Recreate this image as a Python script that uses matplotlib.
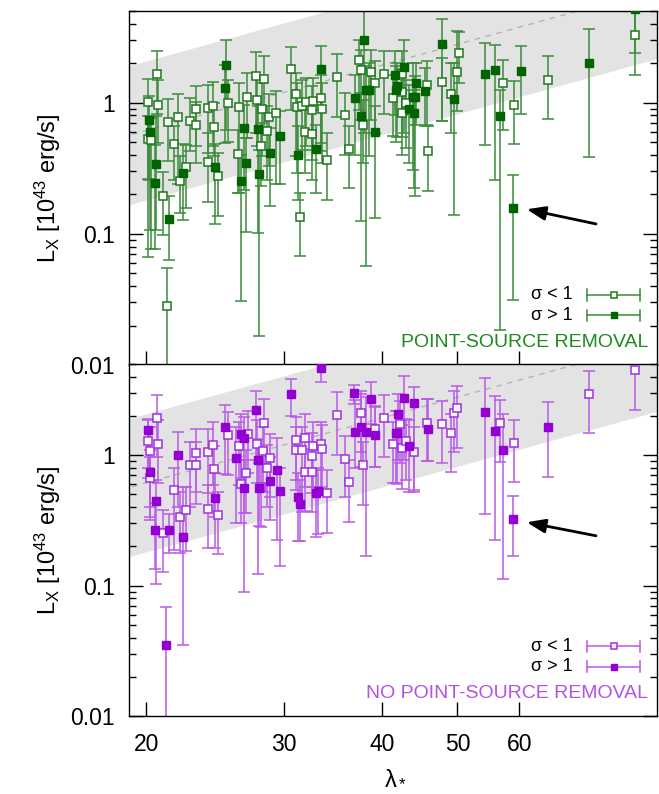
import numpy as np
import matplotlib
matplotlib.use("Agg")
import matplotlib.pyplot as plt
from matplotlib.ticker import FixedLocator, LogLocator, NullFormatter, NullLocator, FuncFormatter

plt.rcParams['font.family'] = ['Liberation Sans', 'DejaVu Sans']
plt.rcParams['mathtext.fontset'] = 'custom'
plt.rcParams['mathtext.rm'] = 'Liberation Sans'
plt.rcParams['mathtext.it'] = 'Liberation Sans:italic'

# scaling relation (median line and scatter band)
REL_NORM = 1.2      # L_X at lambda = 30
REL_PIVOT = 30.0
REL_SLOPE = 1.65
REL_SCATTER = 0.53  # dex

# ---- point-source removal ----
ps_open_lam = [20.1, 20.07, 20.26, 20.66, 20.72, 21.03, 21.23, 21.30, 21.66, 21.98, 22.05, 22.47, 22.72, 23.15,
               23.15, 24.0, 24.0, 24.3, 24.4, 24.67, 25.43, 26.3, 26.2, 26.9, 27.6, 27.7, 28.0, 28.15, 28.3, 28.5,
               28.7, 29.3, 30.6, 31.1, 31.15, 31.4, 31.6, 31.95, 32.0, 32.6, 32.6, 32.7, 33.4, 33.5, 34.0, 35.1,
               35.9, 36.3, 37.4, 37.6, 37.9, 38.8, 39.2, 40.3, 41.4, 42.5, 42.5, 42.4, 43.0, 45.8, 45.7, 47.8,
               49.1, 50.0, 50.2, 57.2, 59.1, 65.2, 84.4]
ps_open_L = [1.01, 0.531, 0.516, 1.645, 0.966, 0.195, 0.028, 0.716, 0.484, 0.777, 0.251, 0.323, 0.729, 0.90,
             0.68, 0.352, 0.916, 0.943, 0.652, 0.274, 1.0, 0.932, 0.406, 1.105, 1.607, 1.041, 0.467, 0.90, 1.525,
             0.611, 0.777, 0.834, 1.80, 1.17, 0.932, 0.135, 0.948, 0.60, 1.012, 0.884, 0.577, 1.036, 1.092, 0.90,
             0.365, 1.56, 0.805, 0.443, 2.10, 1.775, 0.675, 1.70, 1.405, 1.645, 1.092, 1.665, 1.20, 0.834, 1.0,
             0.425, 1.364, 1.447, 1.165, 1.70, 2.38, 1.42, 0.96, 1.50, 3.28]
ps_open_lo = [0.263, 0.067, 0.076, 0.82, 0.49, 0.098, 0.004, 0.357, 0.258, 0.24, 0.144, 0.157, 0.425, 0.464,
              0.346, 0.176, 0.413, 0.464, 0.389, 0.136, 0.498, 0.204, 0.204, 0.537, 0.587, 0.464, 0.23, 0.389,
              0.605, 0.258, 0.327, 0.242, 0.884, 0.389, 0.29, 0.068, 0.438, 0.29, 0.464, 0.367, 0.258, 0.438,
              0.492, 0.346, 0.182, 0.777, 0.40, 0.222, 0.884, 0.742, 0.346, 0.742, 0.587, 0.82, 0.553, 0.80,
              0.55, 0.40, 0.45, 0.213, 0.68, 0.72, 0.587, 0.86, 1.41, 0.622, 0.484, 0.755, 1.635]
ps_open_hi = [1.52, 0.787, 0.764, 2.46, 1.50, 0.294, 0.055, 1.07, 0.66, 1.165, 0.389, 0.478, 1.085, 1.35, 1.02,
              0.587, 1.37, 1.43, 0.99, 0.413, 1.5, 1.41, 0.622, 1.68, 2.42, 1.54, 0.70, 1.41, 2.28, 0.938, 1.17,
              1.235, 2.64, 1.68, 1.41, 0.204, 1.50, 0.884, 1.54, 1.33, 0.884, 1.54, 1.64, 1.41, 0.587, 2.35,
              1.185, 0.66, 3.02, 2.54, 1.054, 2.54, 2.07, 2.46, 1.64, 2.5, 1.8, 1.25, 1.5, 0.66, 2.07, 2.19,
              2.01, 3.5, 3.48, 2.13, 1.455, 2.26, 5.04]

ps_fill_lam = [20.2, 20.15, 20.6, 20.5, 21.4, 22.3, 24.5, 25.3, 25.2, 26.4, 26.65, 26.85, 27.8, 27.9, 28.8, 29.6,
               31.3, 33.0, 33.4, 37.0, 37.6, 38.0, 38.2, 38.5, 39.2, 41.6, 41.7, 41.9, 42.7, 43.4, 43.8, 44.1,
               44.0, 44.3, 45.5, 47.8, 49.5, 54.3, 55.9, 56.6, 58.9, 60.3, 73.6, 84.4]
ps_fill_L = [0.594, 0.742, 0.338, 0.243, 0.130, 0.289, 0.321, 1.95, 1.30, 0.254, 0.641, 0.345, 0.63, 0.284,
             0.413, 0.557, 0.40, 0.44, 1.80, 1.092, 0.796, 3.01, 1.24, 1.256, 0.60, 1.63, 1.256, 1.33, 1.86,
             0.90, 1.098, 1.098, 0.834, 1.41, 1.235, 2.79, 1.073, 1.664, 1.765, 0.796, 0.157, 1.755, 2.02, 5.2]
ps_fill_lo = [0.107, 0.258, 0.107, 0.076, 0.0636, 0.127, 0.119, 0.622, 0.492, 0.031, 0.217, 0.104, 0.101,
              0.0167, 0.162, 0.241, 0.182, 0.204, 0.425, 0.40, 0.126, 0.587, 0.0565, 0.389, 0.132, 0.8, 0.5,
              0.55, 0.587, 0.346, 0.308, 0.193, 0.224, 0.68, 0.66, 0.729, 0.14, 0.472, 0.258, 0.0184, 0.0314,
              0.82, 0.385, 2.4]
ps_fill_hi = [0.787, 1.12, 0.787, 0.478, 0.193, 0.484, 0.486, 2.99, 1.95, 0.40, 0.966, 0.537, 0.938, 0.438,
              0.641, 0.859, 0.66, 0.68, 2.69, 1.64, 1.185, 5.0, 1.89, 2.01, 0.938, 2.46, 1.9, 2.0, 3.02, 1.37,
              2.01, 1.59, 1.256, 2.01, 1.84, 4.38, 2.01, 2.85, 2.74, 1.256, 0.282, 2.69, 3.65, 8.0]

# ---- no point-source removal ----
nps_open_lam = [20.1, 20.2, 20.66, 20.72, 20.24, 21.03, 21.66, 22.07, 22.47, 22.72, 23.15, 23.15, 24.0, 24.0,
                24.3, 24.4, 24.67, 25.43, 26.3, 26.4, 26.85, 26.95, 27.7, 28.0, 28.2, 28.3, 28.5, 28.8, 31.1,
                31.1, 31.6, 31.95, 31.95, 32.6, 32.6, 32.7, 33.4, 33.5, 34.0, 35.1, 35.9, 36.3, 37.6, 37.9,
                39.2, 40.3, 41.4, 42.2, 42.4, 43.0, 44.0, 45.7, 47.8, 49.1, 49.5, 50.0, 56.7, 59.1, 73.6, 84.4]
nps_open_L = [1.279, 1.079, 1.928, 1.213, 0.664, 0.254, 0.537, 0.338, 0.383, 0.834, 1.048, 0.844, 0.389,
              1.054, 1.192, 0.777, 0.350, 1.421, 1.185, 0.604, 0.725, 1.446, 1.228, 0.567, 1.079, 1.775, 0.791,
              0.96, 1.317, 1.092, 1.092, 1.364, 0.738, 0.983, 0.738, 1.185, 1.213, 1.124, 0.51, 2.03, 0.943,
              0.618, 2.1, 0.834, 1.58, 1.928, 1.213, 1.744, 1.144, 1.279, 1.054, 1.775, 1.725, 1.472, 2.09,
              2.30, 1.756, 1.249, 2.94, 4.51]
nps_open_lo = [0.664, 0.403, 0.97, 0.608, 0.319, 0.128, 0.188, 0.178, 0.183, 0.403, 0.525, 0.423, 0.194, 0.51,
               0.59, 0.338, 0.176, 0.704, 0.59, 0.30, 0.363, 0.725, 0.608, 0.28, 0.525, 0.864, 0.403, 0.481,
               0.644, 0.54, 0.367, 0.573, 0.376, 0.51, 0.37, 0.573, 0.573, 0.51, 0.255, 1.012, 0.475, 0.31,
               1.06, 0.415, 0.815, 0.97, 0.608, 0.87, 0.55, 0.64, 0.525, 0.90, 0.864, 0.737, 1.054, 1.144,
               0.89, 0.626, 1.48, 2.24]
nps_open_hi = [1.904, 1.645, 2.9, 1.87, 0.97, 0.38, 0.80, 0.522, 0.573, 1.264, 1.58, 1.264, 0.59, 1.58, 1.797,
               1.17, 0.525, 2.14, 1.797, 0.916, 1.09, 2.17, 1.85, 0.864, 1.645, 2.68, 1.192, 1.446, 1.96,
               1.645, 1.645, 2.06, 1.124, 1.48, 1.09, 1.797, 1.797, 1.695, 0.768, 3.03, 1.41, 0.916, 3.13,
               1.264, 2.38, 2.9, 1.797, 2.6, 1.7, 1.9, 1.645, 2.68, 2.6, 2.08, 3.13, 3.4, 2.63, 1.87, 4.4, 6.5]

nps_fill_lam = [20.07, 20.24, 20.55, 20.5, 21.2, 21.4, 21.97, 22.3, 24.5, 25.2, 26.0, 26.4, 26.65, 26.65, 27.6,
                27.8, 27.9, 28.8, 29.4, 29.6, 30.6, 31.3, 31.4, 33.0, 33.2, 33.4, 36.9, 37.0, 37.6, 38.2,
                38.8, 39.2, 41.95, 41.7, 41.9, 42.75, 44.0, 43.4, 45.8, 54.3, 55.9, 57.2, 58.9, 65.2]
nps_fill_L = [1.552, 0.742, 0.448, 0.268, 0.0348, 0.268, 1.012, 0.237, 0.472, 1.645, 0.948, 1.446, 1.348,
              0.557, 2.23, 0.916, 0.563, 0.630, 0.768, 0.528, 2.94, 0.481, 0.42, 0.516, 0.53, 4.67, 2.99,
              1.498, 1.645, 1.51, 2.69, 1.421, 2.08, 1.48, 1.48, 2.74, 2.51, 1.171, 1.58, 2.14, 1.525, 1.105,
              0.325, 1.635]
nps_fill_lo = [0.8, 0.338, 0.103, 0.135, 0.004, 0.178, 0.4, 0.0348, 0.194, 0.712, 0.30, 0.664, 0.359, 0.0894,
               0.916, 0.123, 0.284, 0.319, 0.224, 0.141, 1.995, 0.221, 0.221, 0.238, 0.25, 3.63, 2.48, 0.791,
               0.815, 0.169, 1.745, 0.815, 0.916, 0.608, 0.6, 0.916, 0.54, 0.525, 0.90, 0.355, 0.224, 0.112,
               0.169, 0.683]
nps_fill_hi = [1.87, 1.09, 0.644, 0.428, 0.0682, 0.354, 1.507, 0.573, 0.725, 2.44, 1.645, 2.08, 1.96, 0.916,
               3.13, 1.34, 0.864, 0.971, 1.36, 0.791, 3.81, 0.725, 0.644, 0.768, 0.8, 6.0, 3.48, 2.63, 2.96,
               2.79, 3.61, 2.34, 2.95, 2.2, 2.2, 4.03, 3.32, 1.85, 2.68, 3.89, 2.84, 2.08, 0.487, 2.54]

# outlier flagged in both panels (arrow from tail to head)
ps_arrow = ((75.2, 0.119), (61.3, 0.154))
nps_arrow = ((75.2, 0.241), (61.3, 0.306))

x_ticks = [20, 30, 40, 50, 60]

GREEN = dict(fill='#006400', edge='#1c781c', err='#3a8c3a', text='#1e8a1e')
PURPLE = dict(fill='#9400d3', edge='#a12ee0', err='#b85ae8', text='#b452e6')

MS = 5.6
CAP = 4.5
LW = 1.1


def errbars(ax, lam, L, lo, hi, col, filled):
    L = np.array(L)
    yerr = [L - np.array(lo), np.array(hi) - L]
    ax.errorbar(lam, L, yerr=yerr, fmt='none', ecolor=col['err'], elinewidth=LW,
                capsize=CAP, capthick=LW, zorder=2)
    if filled:
        ax.plot(lam, L, 's', ms=MS, mfc=col['fill'], mec=col['fill'], mew=1.0, zorder=4)
    else:
        ax.plot(lam, L, 's', ms=MS, mfc='white', mec=col['edge'], mew=1.1, zorder=3)


def legend_row(ax, y, text, col, filled):
    x0, x1, xm = 0.867, 0.968, 0.918
    kw = dict(transform=ax.transAxes, color=col['err'], lw=LW, clip_on=False, zorder=5)
    ax.plot([x0, x1], [y, y], **kw)
    ax.plot([x0, x0], [y - 0.016, y + 0.016], **kw)
    ax.plot([x1, x1], [y - 0.016, y + 0.016], **kw)
    if filled:
        ax.plot([xm], [y], 's', ms=5, mfc=col['fill'], mec=col['fill'], transform=ax.transAxes, zorder=6)
    else:
        ax.plot([xm], [y], 's', ms=5, mfc='white', mec=col['edge'], mew=1.1, transform=ax.transAxes, zorder=6)
    ax.text(0.841, y, text, ha='right', va='center', fontsize=13, transform=ax.transAxes)


def panel(ax, open_set, fill_set, col, label, arrow):
    lg = np.geomspace(18, 95, 60)
    mid = REL_NORM * (lg / REL_PIVOT) ** REL_SLOPE
    ax.fill_between(lg, mid / 10 ** REL_SCATTER, mid * 10 ** REL_SCATTER, color='#e3e3e3', lw=0, zorder=0)
    ax.plot(lg, mid, ls=(0, (4, 4)), color='#b4b4b4', lw=1.0, zorder=1)

    errbars(ax, *open_set, col, filled=False)
    errbars(ax, *fill_set, col, filled=True)

    (tx, ty), (hx, hy) = arrow
    ax.annotate('', xy=(hx, hy), xytext=(tx, ty),
                arrowprops=dict(arrowstyle='-|>,head_length=0.8,head_width=0.3', color='black',
                                lw=2.0, mutation_scale=14, shrinkA=0, shrinkB=0), zorder=6)

    legend_row(ax, 0.198, 'σ < 1', col, filled=False)
    legend_row(ax, 0.140, 'σ > 1', col, filled=True)
    ax.text(0.983, 0.064, label, ha='right', va='center', fontsize=14, color=col['text'],
            transform=ax.transAxes)

    ax.set_xscale('log')
    ax.set_yscale('log')
    ax.set_xlim(19, 90)
    ax.set_ylim(0.01, 5)
    ax.xaxis.set_major_locator(FixedLocator(x_ticks))
    ax.xaxis.set_minor_locator(NullLocator())
    ax.xaxis.set_major_formatter(FuncFormatter(lambda v, p: f'{v:g}'))
    ax.yaxis.set_major_locator(LogLocator(base=10))
    ax.yaxis.set_minor_locator(LogLocator(base=10, subs=np.arange(2, 10)))
    ax.yaxis.set_major_formatter(FuncFormatter(lambda v, p: f'{v:g}'))
    ax.yaxis.set_minor_formatter(NullFormatter())
    ax.tick_params(which='both', direction='in', right=True, top=False, labelsize=16.5, width=1)
    ax.tick_params(which='major', length=10)
    ax.tick_params(which='minor', length=5)
    ax.tick_params(axis='x', pad=12)
    ax.tick_params(axis='y', pad=10)
    for s in ax.spines.values():
        s.set_linewidth(1.0)
    ax.set_ylabel(r'L$_\mathrm{X}$ [10$^{43}$ erg/s]', fontsize=17)
    ax.yaxis.set_label_coords(-0.125, 0.5)


fig = plt.figure(figsize=(6.59, 7.94), dpi=100)
ax_top = fig.add_axes([0.1958, 0.5403, 0.8012, 0.4458])
ax_bot = fig.add_axes([0.1958, 0.0982, 0.8012, 0.4433])

panel(ax_top, (ps_open_lam, ps_open_L, ps_open_lo, ps_open_hi),
      (ps_fill_lam, ps_fill_L, ps_fill_lo, ps_fill_hi), GREEN, 'POINT-SOURCE REMOVAL', ps_arrow)
panel(ax_bot, (nps_open_lam, nps_open_L, nps_open_lo, nps_open_hi),
      (nps_fill_lam, nps_fill_L, nps_fill_lo, nps_fill_hi), PURPLE, 'NO POINT-SOURCE REMOVAL', nps_arrow)

ax_top.tick_params(labelbottom=False)
ax_bot.set_xlabel(r'λ$_*$', fontsize=17)
ax_bot.xaxis.set_label_coords(0.505, -0.145)

fig.savefig('out.png', dpi=100)
